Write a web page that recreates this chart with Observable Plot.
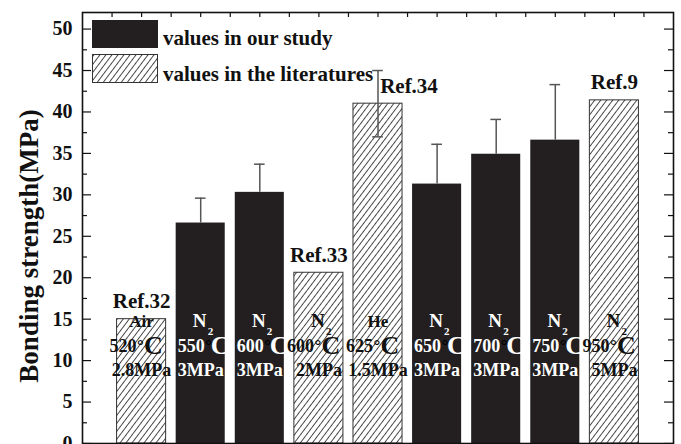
<!DOCTYPE html>
<html>
<head>
<meta charset="utf-8">
<script src="https://cdn.jsdelivr.net/npm/d3@7"></script>
<script src="https://cdn.jsdelivr.net/npm/@observablehq/plot@0.6"></script>
<style>
  html, body { margin: 0; padding: 0; background: #fff; }
  svg { display: block; }
</style>
</head>
<body>
<div id="chart"></div>
<script>
// ---- data ----
const positions = [1, 2, 3, 4, 5, 6, 7, 8, 9];
const sources   = ["lit", "our", "our", "lit", "lit", "our", "our", "our", "lit"];
const strength  = [15.0, 26.6, 30.3, 20.6, 41.0, 31.3, 34.9, 36.6, 41.4];
const errLow    = [null, 26.6, 30.3, null, 37.0, 31.3, 34.9, 36.6, null];
const errHigh   = [null, 29.6, 33.7, null, 45.0, 36.1, 39.1, 43.3, null];
const refs      = ["Ref.32", "", "", "Ref.33", "Ref.34", "", "", "", "Ref.9"];
const gases     = ["Air", "N", "N", "N", "He", "N", "N", "N", "N"];
const gasSub    = ["", "2", "2", "2", "", "2", "2", "2", "2"];
const temps     = ["520", "550", "600", "600", "625", "650", "700", "750", "950"];
const pressures = ["2.8MPa", "3MPa", "3MPa", "2MPa", "1.5MPa", "3MPa", "3MPa", "3MPa", "5MPa"];
const yTicks    = [0, 5, 10, 15, 20, 25, 30, 35, 40, 45, 50];
const yMinor    = [2.5, 7.5, 12.5, 17.5, 22.5, 27.5, 32.5, 37.5, 42.5, 47.5];
const xTicks    = [0.5, 1, 1.5, 2, 2.5, 3, 3.5, 4, 4.5, 5, 5.5, 6, 6.5, 7, 7.5, 8, 8.5, 9, 9.5];
const legendLabels = ["values in our study", "values in the literatures"];
const yLabel = "Bonding strength(MPa)";

const data = positions.map((p, i) => ({
  pos: p, source: sources[i], value: strength[i], lo: errLow[i], hi: errHigh[i],
  ref: refs[i], gas: gases[i], sub: gasSub[i], temp: temps[i], pres: pressures[i]
}));

const W = 681, H = 444, ML = 82, MR = 8, MT = 12, MB = 1;
const PW = W - ML - MR, PH = H - MT - MB;
const SERIF = "Liberation Serif, Times New Roman, serif";
const HW = 0.415;   // half bar width (x units)
const CAP = 0.09;   // half cap width
const BLACK = "#231f20";
const GAS_Y = 14.05, TEMP_Y = 11.0, PRES_Y = 8.15;

const lit = data.filter(d => d.source === "lit");
const our = data.filter(d => d.source === "our");
const errs = data.filter(d => d.hi != null);

function labelMarks(rows, color, numEnd, cStart) {
  const txt = {fontFamily: SERIF, fontWeight: "bold", fill: color, lineAnchor: "bottom"};
  return [
    Plot.text(rows.filter(d => !d.sub), {x: "pos", y: () => GAS_Y, text: "gas", fontSize: 17, ...txt}),
    Plot.text(rows.filter(d => d.sub), {x: "pos", y: () => GAS_Y, text: "gas", fontSize: 19, dx: -1, ...txt}),
    Plot.text(rows.filter(d => d.sub), {x: "pos", y: () => GAS_Y, text: "sub", fontSize: 11, dx: 7, dy: 8, textAnchor: "start", ...txt}),
    Plot.text(rows, {x: "pos", y: () => TEMP_Y, text: "temp", fontSize: 18, textAnchor: "end", dx: numEnd, ...txt}),
    Plot.text(rows, {x: "pos", y: () => TEMP_Y, text: () => "°", fontSize: 17, textAnchor: "start", dx: numEnd + 0.5, dy: -1, ...txt, fill: "black"}),
    Plot.text(rows, {x: "pos", y: () => TEMP_Y, text: () => "C", fontSize: 26, textAnchor: "start", dx: cStart, dy: 2, ...txt}),
    Plot.text(rows, {x: "pos", y: () => PRES_Y, text: "pres", fontSize: 18, ...txt})
  ];
}

const chart = Plot.plot({
  width: W, height: H,
  marginLeft: ML, marginRight: MR, marginTop: MT, marginBottom: MB,
  style: {fontFamily: SERIF, background: "#fff"},
  x: {domain: [0, 10], axis: null},
  y: {domain: [0, 52], axis: null},
  marks: [
    // bars
    Plot.rectY(our, {x1: d => d.pos - HW, x2: d => d.pos + HW, y1: 0, y2: "value", fill: BLACK}),
    Plot.rectY(lit, {x1: d => d.pos - HW, x2: d => d.pos + HW, y1: 0, y2: "value", fill: "url(#hatch)", stroke: "#333", strokeWidth: 1}),
    // error bars
    Plot.ruleX(errs, {x: "pos", y1: "lo", y2: "hi", stroke: "#555", strokeWidth: 1.5}),
    Plot.ruleY(errs, {y: "hi", x1: d => d.pos - CAP, x2: d => d.pos + CAP, stroke: "#555", strokeWidth: 1.5}),
    Plot.ruleY(errs.filter(d => d.source === "lit"), {y: "lo", x1: d => d.pos - CAP, x2: d => d.pos + CAP, stroke: "#555", strokeWidth: 1.5}),
    // reference labels
    Plot.text(lit.filter(d => d.ref !== "Ref.34"), {x: "pos", y: "value", text: "ref", dy: -11, lineAnchor: "bottom", fontSize: 21, fontWeight: "bold", fontFamily: SERIF, fill: "#111"}),
    Plot.text(lit.filter(d => d.ref === "Ref.34"), {x: "pos", y: "value", text: "ref", dx: 31, dy: -11, lineAnchor: "bottom", fontSize: 21, fontWeight: "bold", fontFamily: SERIF, fill: "#111"}),
    // in-bar labels
    ...labelMarks(lit, "#111", -5, 2.5),
    ...labelMarks(our, "#fff", 4, 10),
    // ticks (inward) on all sides
    Plot.tickY(yTicks, {y: d => d, insetRight: PW - 9, stroke: "#111", strokeWidth: 1.2}),
    Plot.tickY(yMinor, {y: d => d, insetRight: PW - 5, stroke: "#111", strokeWidth: 1.2}),
    Plot.tickY(yTicks, {y: d => d, insetLeft: PW - 9, stroke: "#111", strokeWidth: 1.2}),
    Plot.tickY(yMinor, {y: d => d, insetLeft: PW - 5, stroke: "#111", strokeWidth: 1.2}),
    Plot.tickX(xTicks, {x: d => d, insetBottom: PH - 5, stroke: "#111", strokeWidth: 1.2}),
    // y axis labels
    Plot.axisY({ticks: yTicks, tickSize: 0, tickPadding: 10, fontSize: 20, fontWeight: "bold", fontFamily: SERIF, label: null, fill: "#111"}),
    Plot.text([yLabel], {frameAnchor: "left", text: d => d, rotate: -90, textAnchor: "middle", lineAnchor: "middle", dx: -53.5, dy: 18, fontSize: 27, fontWeight: "bold", fontFamily: SERIF, fill: "#111"}),
    Plot.frame({stroke: "#111", strokeWidth: 1.6})
  ]
});

// hatch pattern + legend
const svg = d3.select(chart);
const defs = svg.insert("defs", ":first-child");
const pat = defs.append("pattern").attr("id", "hatch").attr("patternUnits", "userSpaceOnUse")
  .attr("width", 4.8).attr("height", 10).attr("patternTransform", "rotate(37)");
pat.append("rect").attr("width", 4.8).attr("height", 10).attr("fill", "#fff");
pat.append("line").attr("x1", 2.4).attr("x2", 2.4).attr("y1", -1).attr("y2", 11)
  .attr("stroke", "#333").attr("stroke-width", 0.9);

const lg = svg.append("g").attr("class", "legend");
lg.append("rect").attr("x", 92).attr("y", 20).attr("width", 66).attr("height", 28).attr("fill", BLACK);
lg.append("rect").attr("x", 92.5).attr("y", 54.5).attr("width", 65).attr("height", 28).attr("fill", "url(#hatch)").attr("stroke", "#333").attr("stroke-width", 1);
legendLabels.forEach((t, i) => {
  lg.append("text").attr("x", 163).attr("y", i === 0 ? 45 : 81)
    .attr("text-anchor", "start")
    .attr("font-family", SERIF).attr("font-weight", "bold").attr("font-size", 21)
    .attr("fill", "#111").text(t);
});

document.getElementById("chart").appendChild(chart);
</script>
</body>
</html>
